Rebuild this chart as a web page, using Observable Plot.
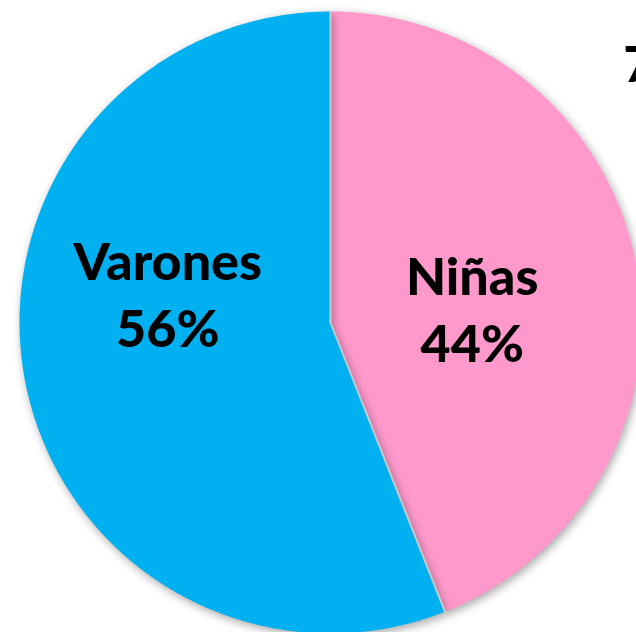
<!DOCTYPE html>
<html>
<head>
<meta charset="utf-8">
<script src="https://cdn.jsdelivr.net/npm/d3@7"></script>
<script src="https://cdn.jsdelivr.net/npm/@observablehq/plot@0.6"></script>
<style>
  html, body { margin: 0; padding: 0; background: #fff; overflow: hidden; width: 636px; height: 632px; }
  #chart svg { overflow: hidden; }
  .slice { filter: drop-shadow(2px 3px 5px rgba(0,0,0,0.35)); }
</style>
</head>
<body>
<div id="chart"></div>
<script>
const categories = ["Niñas", "Varones"];
const values = [44, 56];
const colors = ["#FF99CC", "#00B0F0"];
const percentLabels = ["44%", "56%"];
const titleText = "7";

const pie = d3.pie().sort(null).value(d => d.value);
const arcs = pie(categories.map((c, i) => ({name: c, value: values[i], color: colors[i], pct: percentLabels[i]})));

const polys = arcs.map(a => {
  const pts = [{x: 0, y: 0}];
  const n = Math.ceil((a.endAngle - a.startAngle) / (Math.PI / 720));
  for (let k = 0; k <= n; k++) {
    const t = a.startAngle + (a.endAngle - a.startAngle) * k / n;
    pts.push({x: Math.sin(t), y: Math.cos(t)});
  }
  pts.push({x: 0, y: 0});
  return {name: a.data.name, color: a.data.color, pts};
});

const radii = arcs.map(a => [{x: 0, y: 0}, {x: Math.sin(a.startAngle), y: Math.cos(a.startAngle)}]);

const labels = arcs.map(a => {
  const m = (a.startAngle + a.endAngle) / 2;
  return {name: a.data.name, text: a.data.name + "\n" + a.data.pct, x: 0.5 * Math.sin(m), y: 0.5 * Math.cos(m)};
});

const font = "Lato, 'Open Sans', sans-serif";

const chart = Plot.plot({
  width: 636,
  height: 632,
  margin: 0,
  x: {domain: [-1, 1], range: [19, 641], axis: null},
  y: {domain: [-1, 1], range: [633, 11], axis: null},
  style: {fontFamily: font, background: "#fff"},
  marks: [
    ...polys.map(p => Plot.line(p.pts, {x: "x", y: "y", fill: p.color, stroke: "none", curve: "linear", className: "slice"})),
    ...radii.map(r => Plot.line(r, {x: "x", y: "y", stroke: "#c9c9c9", strokeWidth: 2})),
    Plot.text(labels.filter(d => d.name === "Niñas"), {x: "x", y: "y", text: "text", fontSize: 52, fontWeight: 900, fill: "#000", lineHeight: 1.29, dx: -11, dy: 14}),
    Plot.text(labels.filter(d => d.name === "Varones"), {x: "x", y: "y", text: "text", fontSize: 52, fontWeight: 900, fill: "#000", lineHeight: 1.29, dx: -10, dy: -60}),
    Plot.text([titleText], {frameAnchor: "top-right", text: d => d, textAnchor: "start", lineAnchor: "top", dx: -13, dy: 46, fontSize: 50, fontWeight: 900, fill: "#000"})
  ]
});
document.getElementById("chart").appendChild(chart);
</script>
</body>
</html>
